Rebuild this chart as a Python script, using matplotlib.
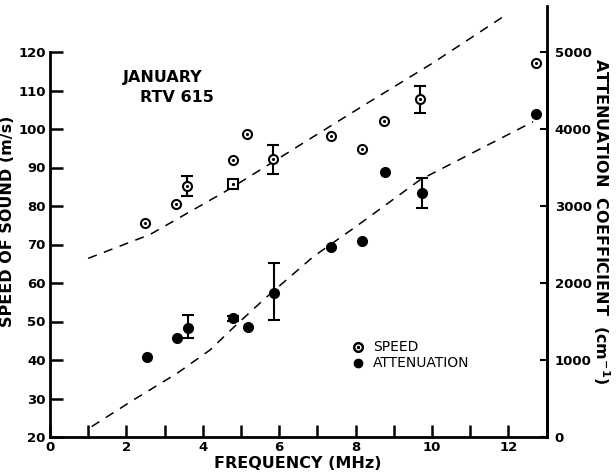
#!/usr/bin/env python3
import numpy as np
import matplotlib as mpl
mpl.use("Agg")
import matplotlib.pyplot as plt

# ------------ Data ------------
# speed of sound (m/s), open circles; one square point at 4.8 MHz
SPEED_FREQ = [2.5, 3.3, 3.6, 4.8, 5.15, 5.85, 7.37, 8.16, 8.74, 9.7, 12.72]
SPEED      = [75.5, 80.4, 85.3, 91.9, 98.7, 92.1, 98.3, 94.8, 102.1, 107.7, 117.1]
SPEED_ERR  = [0, 0, 2.6, 0, 0, 3.8, 0, 0, 0, 3.5, 0]
SQUARE_FREQ = [4.78]
SQUARE_SPEED = [85.6]

# attenuation coefficient (cm^-1), filled circles
ATT_FREQ = [2.53, 3.32, 3.62, 4.8, 5.19, 5.86, 7.37, 8.16, 8.77, 9.73, 12.72]
ATT      = [1045, 1290, 1410, 1540, 1435, 1865, 2470, 2550, 3440, 3165, 4190]
ATT_ERR_LO = [0, 0, 130, 30, 0, 345, 0, 0, 0, 195, 0]
ATT_ERR_HI = [0, 0, 175, 30, 0, 390, 0, 0, 0, 195, 0]

# dashed fit curves
FIT_SPEED_FREQ = [1.0, 2.62, 4.63, 5.85, 6.54, 8.29, 10.0, 11.87]
FIT_SPEED      = [66.4, 72.6, 84.0, 91.5, 95.8, 106.6, 117.0, 129.2]
FIT_ATT_FREQ = [1.09, 2.18, 3.32, 4.19, 4.8, 5.63, 6.89, 8.03, 9.69, 12.65]
FIT_ATT      = [135, 480, 825, 1130, 1420, 1800, 2340, 2740, 3340, 4095]

XTICKS = list(range(0, 14))
XLABELS = [str(t) if t % 2 == 0 and t < 13 else "" for t in XTICKS]
YTICKS_L = list(range(20, 121, 10))
YTICKS_R = [0, 1000, 2000, 3000, 4000, 5000]

plt.rcParams["font.family"] = "DejaVu Sans"

# ------------ Figure ------------
fig = plt.figure(figsize=(6.16, 4.76), dpi=100)
# x: 0..13 MHz spans px 50..546.5 ; y: 20..132 spans px 437..5.8
ax = fig.add_axes([50 / 616, 1 - 437 / 476, 496.5 / 616, 431.2 / 476])
ax2 = ax.twinx()

ax.set_xlim(0, 13)
ax.set_ylim(20, 132)
ax2.set_ylim(0, 5600)

for a in (ax, ax2):
    a.spines["top"].set_visible(False)
    for s in a.spines.values():
        s.set_linewidth(2.0)
ax.spines["left"].set_bounds(20, 120)
ax2.spines["right"].set_bounds(0, 5000)
ax2.spines["left"].set_visible(False)
ax2.spines["bottom"].set_visible(False)

# fit curves
ax.plot(FIT_SPEED_FREQ, FIT_SPEED, color="black", lw=1.1, dashes=(6, 5),
        clip_on=False)
ax2.plot(FIT_ATT_FREQ, FIT_ATT, color="black", lw=1.1, dashes=(6, 5),
         clip_on=False)

# speed points
sf = np.array(SPEED_FREQ); sv = np.array(SPEED); se = np.array(SPEED_ERR)
m = se > 0
ax.errorbar(sf[m], sv[m], yerr=se[m], fmt="none", ecolor="black",
            elinewidth=1.5, capsize=4, capthick=1.5, zorder=3)
ax.plot(sf, sv, "o", ms=6.5, mfc="white", mec="black", mew=1.5, zorder=4,
        clip_on=False)
ax.plot(SQUARE_FREQ, SQUARE_SPEED, "s", ms=6.5, mfc="white", mec="black",
        mew=1.5, zorder=4)
ax.plot(list(sf) + SQUARE_FREQ, list(sv) + SQUARE_SPEED, ".", ms=2.5,
        color="black", zorder=5, clip_on=False)

# attenuation points
af = np.array(ATT_FREQ); av = np.array(ATT)
lo = np.array(ATT_ERR_LO); hi = np.array(ATT_ERR_HI)
m = (lo > 0) | (hi > 0)
ax2.errorbar(af[m], av[m], yerr=[lo[m], hi[m]], fmt="none", ecolor="black",
             elinewidth=1.5, capsize=4, capthick=1.5, zorder=3)
ax2.plot(af, av, "o", ms=7, color="black", zorder=4, clip_on=False)

# ticks
ax.set_xticks(XTICKS)
ax.set_xticklabels(XLABELS)
ax.set_yticks(YTICKS_L)
ax2.set_yticks(YTICKS_R)
ax.tick_params(direction="in", length=9, width=1.8, labelsize=9.5, pad=3)
ax2.tick_params(direction="in", length=5, width=1.5, labelsize=9.5, pad=6)
for lab in ax.get_xticklabels() + ax.get_yticklabels() + ax2.get_yticklabels():
    lab.set_fontweight("bold")

ax.set_xlabel("FREQUENCY (MHz)", fontsize=11.5, fontweight="bold", labelpad=1)
ax.set_ylabel("SPEED OF SOUND (m/s)", fontsize=11.5, fontweight="bold",
              labelpad=2)
ax2.set_ylabel("ATTENUATION  COEFFICIENT  (cm$^{\\mathbf{-1}}$)", fontsize=11.5,
               fontweight="bold", rotation=-90, labelpad=14)

ax.text(1.9, 113.5, "JANUARY", fontsize=11.5, fontweight="bold", va="center")
ax.text(2.36, 108.3, "RTV 615", fontsize=11.5, fontweight="bold", va="center")

# legend
h1, = ax.plot([], [], marker="$\\odot$", ls="none", ms=7, color="black")
h2, = ax.plot([], [], "o", ls="none", ms=6, color="black")
leg = ax.legend([h1, h2], ["SPEED", "ATTENUATION"], loc="upper left",
                bbox_to_anchor=(0.597, 0.237),
                frameon=False, handlelength=0.8, handletextpad=0.7,
                labelspacing=0.15, fontsize=10, borderaxespad=0)

fig.savefig("out.png", dpi=100)
